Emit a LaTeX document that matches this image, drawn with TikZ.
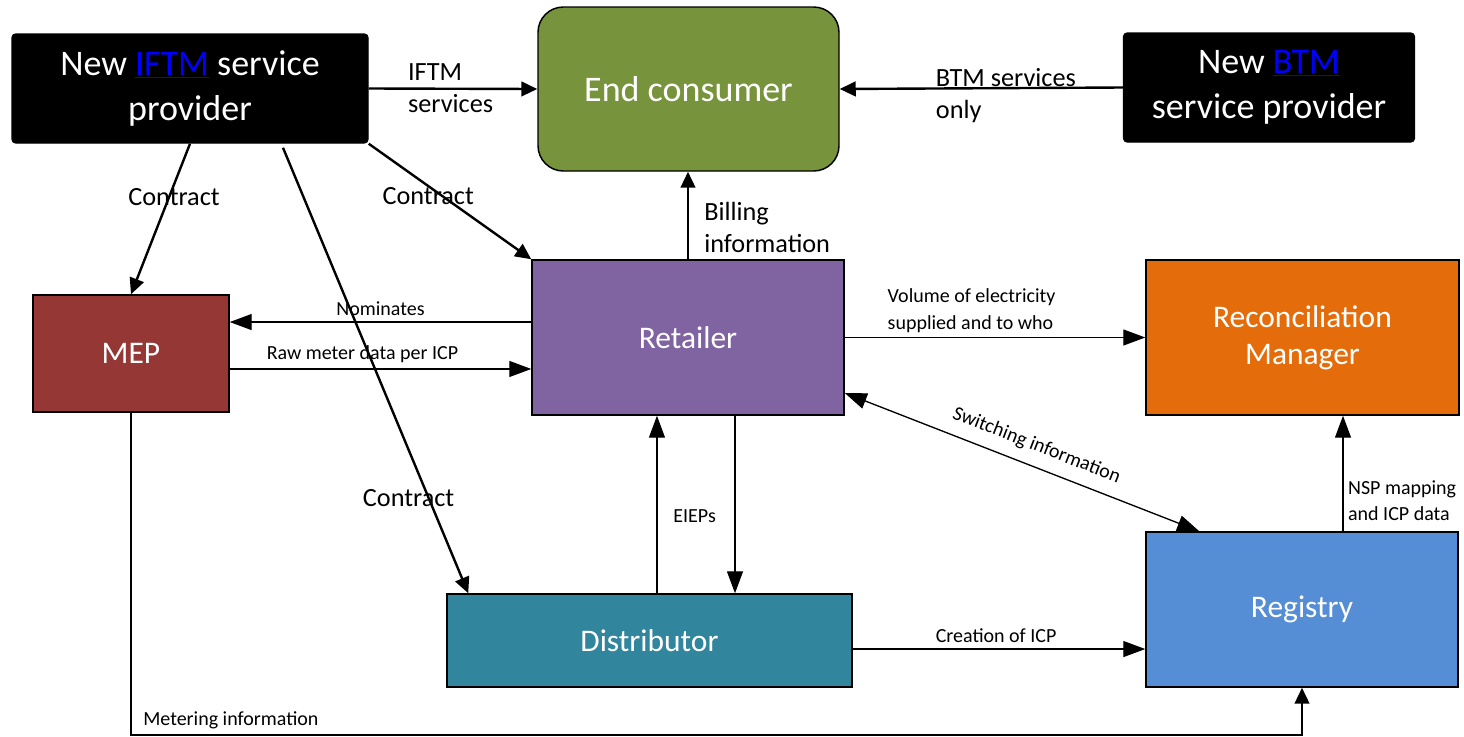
\documentclass[tikz,border=0pt]{standalone}
\usepackage{fontspec}
\setmainfont{Carlito}
\usetikzlibrary{arrows.meta}
\definecolor{mktGreen}{HTML}{77933C}
\definecolor{mktRed}{HTML}{953735}
\definecolor{mktPurple}{HTML}{8064A2}
\definecolor{mktOrange}{HTML}{E46C0A}
\definecolor{mktTeal}{HTML}{31859C}
\definecolor{mktBlue}{HTML}{558ED5}
\definecolor{mktLink}{HTML}{0000FF}
\newcommand\mktBigFont{\fontsize{27}{34}\selectfont}
\newcommand\mktBoxFont{\fontsize{23.6}{28}\selectfont}
\newcommand\mktMidFont{\fontsize{19.7}{24}\selectfont}
\newcommand\mktSmallFont{\fontsize{15}{20}\selectfont}
\newcommand\mktLinkText[1]{\textcolor{mktLink}{\underline{#1}}}
\tikzset{
  mkt box/.style={draw=black, line width=1.1pt, text=white, align=center, font=\mktBoxFont, inner sep=0pt},
  mkt dark/.style={mkt box, fill=black, rounded corners=3pt, font=\mktBigFont},
  mkt thick/.style={draw=black, line width=1.8pt, -{Triangle[length=12pt, width=11pt]}},
  mkt thin/.style={draw=black, line width=1pt, -{Triangle[length=16.5pt, width=12pt]}},
  mkt both/.style={mkt thin, {Triangle[length=16.5pt, width=12pt]}-{Triangle[length=16.5pt, width=12pt]}},
  mkt mid label/.style={font=\mktMidFont, text=black, align=left},
  mkt small label/.style={font=\mktSmallFont, text=black, align=left},
}

\begin{document}
\begin{tikzpicture}[x=0.75pt, y=-0.75pt]
  \useasboundingbox (0,0) rectangle (1464,736);
  % Service providers and consumer
  \node[mkt dark, minimum width=267pt, minimum height=81.75pt] (iftm) at (190,88.5) {New \mktLinkText{IFTM} service\\provider};
  \node[mkt box, fill=mktGreen, rounded corners=19pt, font=\mktBigFont, minimum width=225.75pt, minimum height=123pt] (consumer) at (688.5,89) {End consumer};
  \node[mkt dark, minimum width=218.25pt, minimum height=81.75pt] (btm) at (1269,87.5) {New \mktLinkText{BTM}\\service provider};
  % Market participants
  \node[mkt box, fill=mktRed, minimum width=147pt, minimum height=87.75pt] (mep) at (131,353.5) {MEP};
  \node[mkt box, fill=mktPurple, minimum width=234pt, minimum height=116.25pt] (retailer) at (688,337.5) {Retailer};
  \node[mkt box, fill=mktOrange, minimum width=234.75pt, minimum height=116.25pt] (recon) at (1302.5,337.5) {Reconciliation\\Manager};
  \node[mkt box, fill=mktTeal, minimum width=303.75pt, minimum height=69.75pt] (distributor) at (649.5,640.5) {Distributor};
  \node[mkt box, fill=mktBlue, minimum width=234pt, minimum height=116.25pt] (registry) at (1302,609.5) {Registry};

  % Services to the end consumer
  \draw[mkt thick] (iftm.east) -- node[mkt mid label, anchor=west, pos=0.2] {IFTM\\services} (consumer.west);
  \draw[mkt thick] (btm.west) -- node[mkt mid label, anchor=west, pos=0.68, yshift=-5pt] {BTM services\\only} (consumer.east);
  \draw[mkt thick] (retailer.north) -- node[mkt mid label, right=8pt, pos=0.36] {Billing\\information} (retailer.north |- consumer.south);

  % Contracts
  \draw[mkt thick] (iftm.south) -- node[mkt mid label, pos=0.355, xshift=3.75pt] {Contract} (mep.north);
  \draw[mkt thick] (iftm.south east) -- node[mkt mid label, pos=0.366, yshift=-7.5pt] {Contract} (retailer.north west);
  \coordinate (ctrStart) at ([xshift=69.75pt, yshift=-3pt]iftm.south);
  \coordinate (ctrEnd) at ([xshift=16.5pt]distributor.north west);
  \draw[mkt thick] (ctrStart) -- node[mkt mid label, pos=0.786, xshift=-15pt] {Contract} (ctrEnd);

  % Retailer and MEP
  \coordinate (nomStart) at ([yshift=11.6pt]retailer.west);
  \draw[mkt thin] (nomStart) -- node[mkt small label, above=1pt] {Nominates} (nomStart -| mep.east);
  \coordinate (rawEnd) at ([yshift=-23.6pt]retailer.west);
  \draw[mkt thin] (rawEnd -| mep.east) -- node[mkt small label, above=1pt, pos=0.44] {Raw meter data per ICP} (rawEnd);

  % Retailer to the right
  \draw[mkt thin] (retailer.east) -- node[mkt small label, above right, pos=0.126] {Volume of electricity\\supplied and to who} (recon.west);
  \coordinate (swRet) at ([yshift=-41.6pt]retailer.east);
  \coordinate (swReg) at ([xshift=40.5pt]registry.north west);
  \draw[mkt both] (swRet) -- node[mkt small label, sloped, above=5pt, pos=0.52] {Switching information} (swReg);
  \coordinate (nspStart) at ([xshift=30.75pt]registry.north);
  \draw[mkt thin] (nspStart) -- node[mkt small label, right, pos=0.265] {NSP mapping\\and ICP data} (nspStart |- recon.south);

  % Distributor links
  \coordinate (eiepUp) at ([xshift=5.6pt]distributor.north);
  \draw[mkt thin] (eiepUp) -- node[mkt small label, right=8.5pt, pos=0.436] {EIEPs} (eiepUp |- retailer.south);
  \coordinate (eiepDown) at ([xshift=35.25pt]retailer.south);
  \draw[mkt thin] (eiepDown) -- (eiepDown |- distributor.north);
  \coordinate (icpStart) at ([yshift=-6.4pt]distributor.east);
  \draw[mkt thin] (icpStart) -- node[mkt small label, above=1pt, pos=0.49] {Creation of ICP} (icpStart -| registry.west);

  % Metering information round the bottom
  \draw[mkt thick] (mep.south) -- ++(0,322) node[mkt small label, above right, xshift=5pt] {Metering information} -| (registry.south);
\end{tikzpicture}
\end{document}
